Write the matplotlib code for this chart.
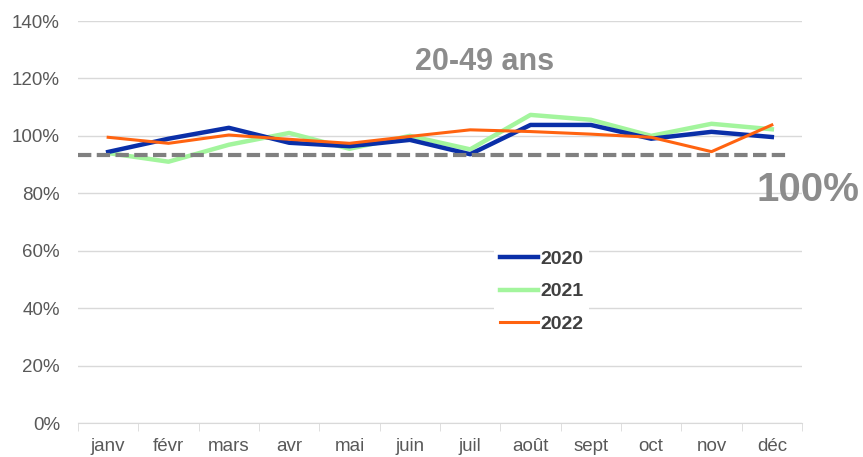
import matplotlib
matplotlib.use("Agg")
import matplotlib.pyplot as plt
from matplotlib.ticker import FuncFormatter

plt.rcParams["font.family"] = ["Liberation Sans", "DejaVu Sans"]

months = ["janv", "févr", "mars", "avr", "mai", "juin", "juil", "août", "sept", "oct", "nov", "déc"]
y2020 = [94.4, 99.0, 102.8, 97.6, 96.4, 98.6, 93.6, 103.8, 103.8, 99.0, 101.4, 99.6]
y2021 = [94.0, 91.0, 96.9, 101.0, 95.5, 100.0, 95.3, 107.3, 105.6, 100.0, 104.2, 102.3]
y2022 = [99.5, 97.4, 100.3, 98.8, 97.4, 99.8, 102.1, 101.5, 100.6, 99.5, 94.5, 103.8]
ref_level = 93.4
yticks = [0, 20, 40, 60, 80, 100, 120, 140]

fig = plt.figure(figsize=(8.63, 4.57), dpi=100)
ax = fig.add_axes([78 / 863, 1 - 423 / 457, 724 / 863, 402 / 457])

x = list(range(len(months)))
ax.plot(x, y2020, color="#0a2fa8", lw=3.2, label="2020", zorder=3)
ax.plot(x, y2021, color="#a3f59d", lw=3.2, label="2021", zorder=2)
ax.plot(x, y2022, color="#ff6310", lw=2.2, label="2022", zorder=4)
ax.hlines(ref_level, -0.5, 11.3, colors="#808080", lw=3.0,
          linestyles=(0, (3.2, 1.3)), zorder=5)

ax.set_xlim(-0.5, 11.5)
ax.set_ylim(0, 140)
ax.set_yticks(yticks)
ax.yaxis.set_major_formatter(FuncFormatter(lambda v, _: f"{int(v)}%"))
ax.set_xticks(x)
ax.set_xticklabels(months)
ax.set_xticks([i - 0.5 for i in range(13)], minor=True)
ax.tick_params(axis="x", which="major", length=0, labelsize=13.5, colors="#595959", pad=11)
ax.tick_params(axis="x", which="minor", length=6, color="#d9d9d9")
ax.tick_params(axis="y", length=0, labelsize=13.5, colors="#595959", pad=13)
ax.grid(axis="y", color="#d9d9d9", lw=1)
ax.set_axisbelow(True)
for s in ["top", "right", "left"]:
    ax.spines[s].set_visible(False)
ax.spines["bottom"].set_color("#d9d9d9")

fig.text(485 / 863, 1 - 62 / 457, "20-49 ans", ha="center", va="center",
         fontsize=22, fontweight="bold", color="#8c8c8c")
fig.text(808 / 863, 1 - 190 / 457, "100%", ha="center", va="center",
         fontsize=29, fontweight="bold", color="#8c8c8c")

leg = ax.legend(loc="upper left", bbox_to_anchor=(484 / 863, 1 - 235 / 457),
                bbox_transform=fig.transFigure, frameon=True, framealpha=1,
                edgecolor="none", facecolor="white", handlelength=2.0,
                handletextpad=0.1, labelspacing=0.75, borderpad=0.3,
                prop={"size": 14, "weight": "bold"})
for t in leg.get_texts():
    t.set_color("#404040")

fig.savefig("out.png", dpi=100)
